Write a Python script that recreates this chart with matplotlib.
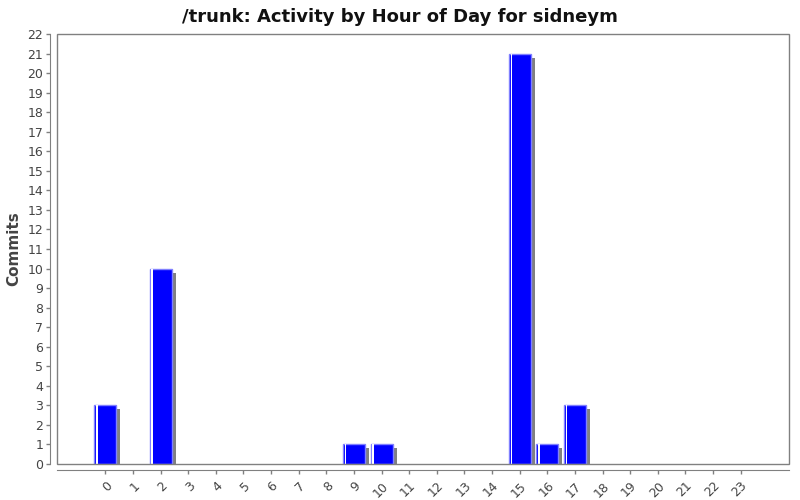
import matplotlib
matplotlib.use('Agg')
import matplotlib.pyplot as plt
from matplotlib.patches import Rectangle
from matplotlib.transforms import ScaledTranslation

# commits per hour of day
hours = list(range(24))
commits = [3, 0, 10, 0, 0, 0, 0, 0, 0, 1, 1, 0, 0, 0, 0, 21, 1, 3, 0, 0, 0, 0, 0, 0]
hour_labels = [str(h) for h in hours]

fig = plt.figure(figsize=(8, 5), dpi=100)
ax = fig.add_axes([57 / 800, 36 / 500, 732 / 800, 430 / 500])

bw = 0.8
shown = [h for h, c in zip(hours, commits) if c > 0]
vals = [c for c in commits if c > 0]

# shadow, shifted right/down and clipped at the axes
shadow = ScaledTranslation(4 / 100, -4 / 100, fig.dpi_scale_trans)
ax.bar(shown, vals, width=bw, color='#808080', transform=ax.transData + shadow, zorder=2)
ax.bar(shown, vals, width=bw, color='#0000ff', edgecolor='#8080ff', linewidth=1, zorder=3)
# thin white stripe near the left edge
ax.bar([h - bw / 2 + 0.07 for h in shown], vals, width=0.06, align='edge',
       color='white', linewidth=0, zorder=4)

ax.set_xlim(-1.75, 24.75)
ax.set_ylim(0, 22)
ax.set_yticks(range(0, 23))
ax.set_xticks(hours)
ax.set_xticklabels(hour_labels)

for s in ['top', 'right']:
    ax.spines[s].set_visible(False)
ax.spines['left'].set_position(('outward', 5))
ax.spines['bottom'].set_position(('outward', 4))
ax.spines['left'].set_color('#808080')
ax.spines['bottom'].set_color('#808080')
ax.add_patch(Rectangle((0, 0), 1, 1, transform=ax.transAxes, fill=False,
                       edgecolor='#808080', linewidth=1, clip_on=False, zorder=5))

ax.tick_params(axis='both', colors='#808080', labelcolor='#444444', labelsize=9,
               length=3, width=1)
ax.tick_params(axis='y', pad=2)
ax.tick_params(axis='x', labelrotation=45, pad=4)
plt.setp(ax.get_xticklabels(), ha='right', rotation_mode='anchor')

ax.set_ylabel('Commits', fontsize=11, fontweight='bold', color='#444444', labelpad=4)
fig.suptitle('/trunk: Activity by Hour of Day for sidneym', fontsize=13, fontweight='bold',
             color='#111111', y=0.985)

fig.savefig('out.png', dpi=100)
